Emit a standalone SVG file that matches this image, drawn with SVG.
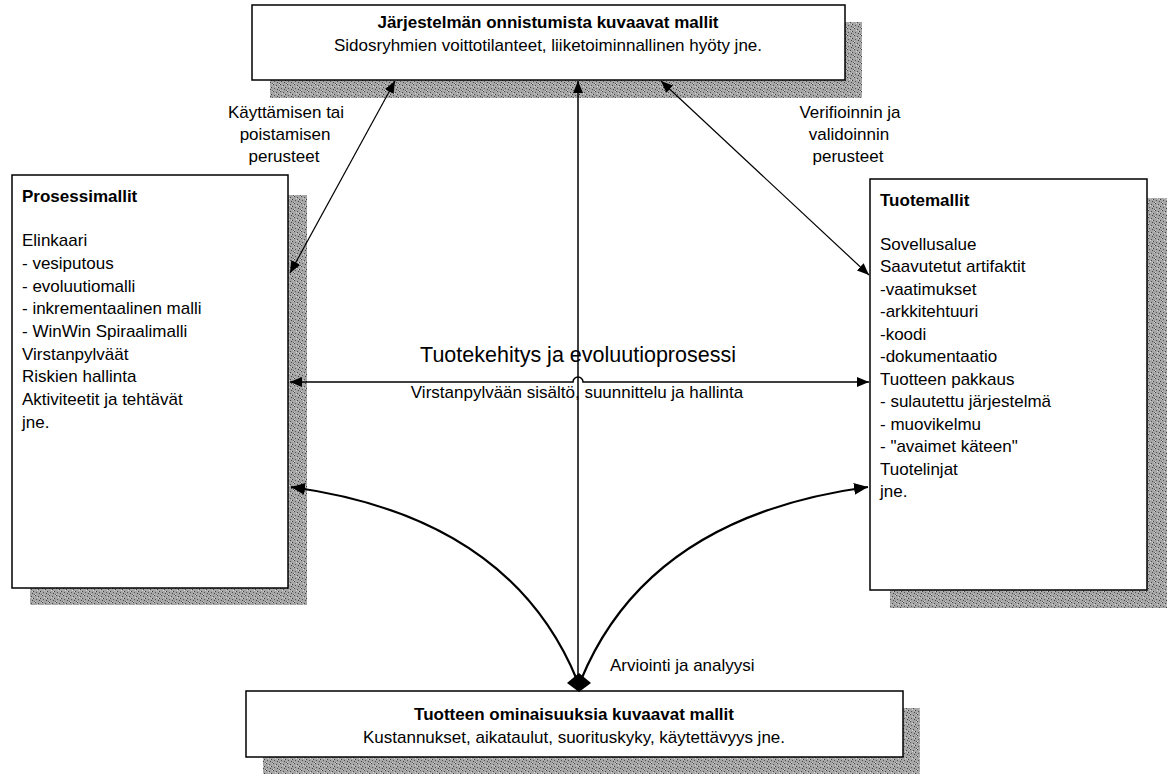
<svg xmlns="http://www.w3.org/2000/svg" width="1172" height="778" viewBox="0 0 1172 778">
  <style>
    .box { fill: #ffffff; stroke: #000000; stroke-width: 1.5; }
    .shadow { fill: url(#halftone); }
    text { font-family: "Liberation Sans", Arial, sans-serif; fill: #000000; }
    .body { font-size: 17px; }
    .title { font-size: 17px; font-weight: bold; }
    .mid { text-anchor: middle; }
    .big { font-size: 21.5px; }
    .line { fill: none; stroke: #000000; }
    .thin { stroke-width: 1.2; }
    .med { stroke-width: 1.5; }
    .thick { stroke-width: 2.2; }
  </style>
  <defs>
    <!-- mottled grey fill for the drop shadows -->
    <pattern id="halftone" width="7" height="7" patternUnits="userSpaceOnUse">
      <rect width="7" height="7" fill="#a6a6a6"/>
      <rect x="0" y="0" width="1" height="1" fill="#3c3c3c"/>
      <rect x="3" y="1" width="1" height="1" fill="#4a4a4a"/>
      <rect x="5" y="3" width="1" height="1" fill="#3c3c3c"/>
      <rect x="1" y="4" width="1" height="1" fill="#555555"/>
      <rect x="4" y="5" width="1" height="1" fill="#444444"/>
      <rect x="6" y="6" width="1" height="1" fill="#5a5a5a"/>
      <rect x="2" y="2" width="1" height="1" fill="#d8d8d8"/>
      <rect x="6" y="0" width="1" height="1" fill="#d0d0d0"/>
      <rect x="0" y="6" width="1" height="1" fill="#d4d4d4"/>
      <rect x="4" y="3" width="1" height="1" fill="#cfcfcf"/>
    </pattern>
    <marker id="arrow" viewBox="0 0 12 10" markerWidth="12" markerHeight="10" refX="12" refY="5" orient="auto-start-reverse" markerUnits="userSpaceOnUse">
      <path d="M0,0 L12,5 L0,10 z" fill="#000000"/>
    </marker>
    <marker id="arrowBig" viewBox="0 0 14 12" markerWidth="14" markerHeight="12" refX="14" refY="6" orient="auto" markerUnits="userSpaceOnUse">
      <path d="M0,0 L14,6 L0,12 z" fill="#000000"/>
    </marker>
  </defs>

  <!-- success models -->
  <g id="node-success">
    <rect class="shadow" x="270" y="22" width="592" height="76"/>
    <rect class="box" x="252" y="5" width="593" height="75"/>
    <text class="title mid" x="548" y="28">Järjestelmän onnistumista kuvaavat mallit</text>
    <text class="body mid" x="548" y="51">Sidosryhmien voittotilanteet, liiketoiminnallinen hyöty jne.</text>
  </g>

  <!-- process models -->
  <g id="node-process">
    <rect class="shadow" x="30" y="195" width="277" height="410"/>
    <rect class="box" x="12" y="175" width="276" height="413"/>
    <text class="title" x="22" y="202">Prosessimallit</text>
    <text class="body" x="22" y="246">Elinkaari</text>
    <text class="body" x="22" y="269">- vesiputous</text>
    <text class="body" x="22" y="292">- evoluutiomalli</text>
    <text class="body" x="22" y="314">- inkrementaalinen malli</text>
    <text class="body" x="22" y="337">- WinWin Spiraalimalli</text>
    <text class="body" x="22" y="360">Virstanpylväät</text>
    <text class="body" x="22" y="382">Riskien hallinta</text>
    <text class="body" x="22" y="405">Aktiviteetit ja tehtävät</text>
    <text class="body" x="22" y="428">jne.</text>
  </g>

  <!-- product models -->
  <g id="node-product">
    <rect class="shadow" x="890" y="198" width="277" height="410"/>
    <rect class="box" x="870" y="179" width="277" height="411"/>
    <text class="title" x="880" y="206">Tuotemallit</text>
    <text class="body" x="880" y="250">Sovellusalue</text>
    <text class="body" x="880" y="272">Saavutetut artifaktit</text>
    <text class="body" x="880" y="295">-vaatimukset</text>
    <text class="body" x="880" y="317">-arkkitehtuuri</text>
    <text class="body" x="880" y="340">-koodi</text>
    <text class="body" x="880" y="362">-dokumentaatio</text>
    <text class="body" x="880" y="385">Tuotteen pakkaus</text>
    <text class="body" x="880" y="407">- sulautettu järjestelmä</text>
    <text class="body" x="880" y="430">- muovikelmu</text>
    <text class="body" x="880" y="452">- "avaimet käteen"</text>
    <text class="body" x="880" y="475">Tuotelinjat</text>
    <text class="body" x="880" y="497">jne.</text>
  </g>

  <!-- product property models -->
  <g id="node-properties">
    <rect class="shadow" x="263" y="708" width="657" height="66"/>
    <rect class="box" x="246" y="691" width="657" height="66"/>
    <text class="title mid" x="574" y="720">Tuotteen ominaisuuksia kuvaavat mallit</text>
    <text class="body mid" x="574" y="743">Kustannukset, aikataulut, suorituskyky, käytettävyys jne.</text>
  </g>

  <!-- connectors, drawn over the shadows -->
  <g id="connectors">
    <!-- vertical spine from the assessment diamond up to the success models -->
    <line class="line med" x1="578" y1="683" x2="578" y2="81" marker-end="url(#arrow)"/>
    <!-- diagonals between success models and the side boxes -->
    <line class="line thin" x1="395" y1="81" x2="290" y2="273" marker-start="url(#arrow)" marker-end="url(#arrow)"/>
    <line class="line thin" x1="661" y1="81" x2="869" y2="275" marker-start="url(#arrow)" marker-end="url(#arrow)"/>
    <!-- horizontal process line with a hop over the spine -->
    <path class="line med" d="M290,382 L573,382 A5,5 0 0 1 583,382 L869,382" marker-start="url(#arrow)" marker-end="url(#arrow)"/>
    <!-- curved assessment links -->
    <path class="line thick" d="M577,680 C540,590 460,510 291,487" marker-end="url(#arrowBig)"/>
    <path class="line thick" d="M581,680 C618,590 698,510 868,487" marker-end="url(#arrowBig)"/>
    <!-- diamond at the bottom end -->
    <path d="M579,673 L591,683 L579,692 L567,683 z" fill="#000000"/>
  </g>

  <!-- connector labels -->
  <g id="labels">
    <text class="body mid" x="286" y="118">Käyttämisen tai</text>
    <text class="body mid" x="285" y="140">poistamisen</text>
    <text class="body mid" x="284" y="162">perusteet</text>
    <text class="body mid" x="850" y="118">Verifioinnin ja</text>
    <text class="body mid" x="849" y="140">validoinnin</text>
    <text class="body mid" x="848" y="162">perusteet</text>
    <text class="big mid" x="578" y="362">Tuotekehitys ja evoluutioprosessi</text>
    <text class="body mid" x="577" y="398">Virstanpylvään sisältö, suunnittelu ja hallinta</text>
    <text class="body" x="610" y="671">Arviointi ja analyysi</text>
  </g>
</svg>
